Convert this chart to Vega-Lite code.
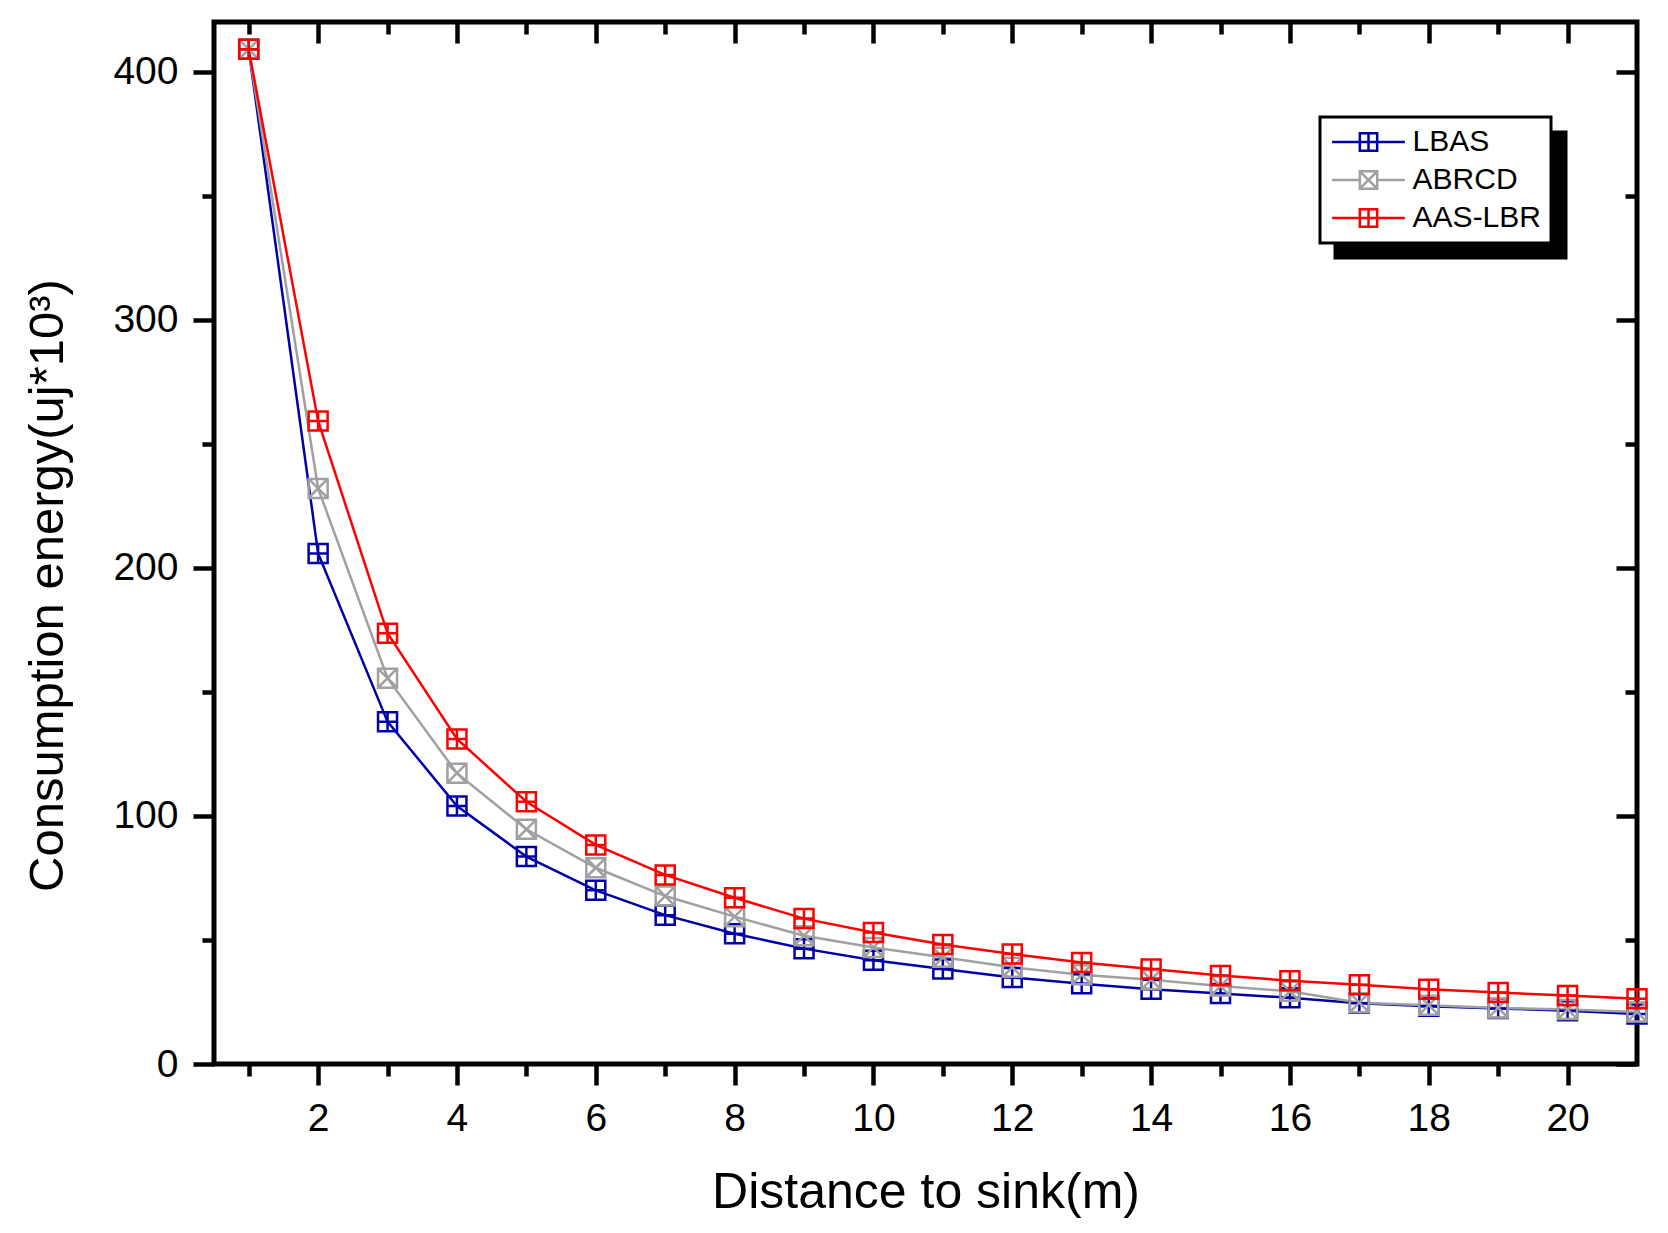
{
  "$schema": "https://vega.github.io/schema/vega-lite/v6.json",
  "width": 1423,
  "height": 1042,
  "autosize": {"type": "none"},
  "padding": {"left": 214, "top": 22, "right": 31, "bottom": 169},
  "background": "#ffffff",
  "config": {
    "font": "Liberation Sans",
    "view": {"stroke": "#000000", "strokeWidth": 5},
    "legend": {"strokeWidth": 3},
    "axis": {
      "grid": false,
      "domain": false,
      "tickColor": "#000000",
      "tickWidth": 4.5,
      "labelColor": "#000000",
      "titleColor": "#000000",
      "labelFont": "Liberation Sans",
      "titleFont": "Liberation Sans",
      "labelFontSize": 39,
      "titleFontSize": 49,
      "titleFontWeight": "normal",
      "labelFlush": false,
      "labelOverlap": false
    }
  },
  "data": {
    "values": [
      {"distance": 1, "series": "LBAS", "energy": 409},
      {"distance": 2, "series": "LBAS", "energy": 205.8},
      {"distance": 3, "series": "LBAS", "energy": 138},
      {"distance": 4, "series": "LBAS", "energy": 104},
      {"distance": 5, "series": "LBAS", "energy": 83.6},
      {"distance": 6, "series": "LBAS", "energy": 70},
      {"distance": 7, "series": "LBAS", "energy": 60},
      {"distance": 8, "series": "LBAS", "energy": 52.5},
      {"distance": 9, "series": "LBAS", "energy": 46.5},
      {"distance": 10, "series": "LBAS", "energy": 41.8},
      {"distance": 11, "series": "LBAS", "energy": 38.3},
      {"distance": 12, "series": "LBAS", "energy": 34.9},
      {"distance": 13, "series": "LBAS", "energy": 32.3},
      {"distance": 14, "series": "LBAS", "energy": 30.1},
      {"distance": 15, "series": "LBAS", "energy": 28.4},
      {"distance": 16, "series": "LBAS", "energy": 26.7},
      {"distance": 17, "series": "LBAS", "energy": 24.5},
      {"distance": 18, "series": "LBAS", "energy": 23.3},
      {"distance": 19, "series": "LBAS", "energy": 22.4},
      {"distance": 20, "series": "LBAS", "energy": 21.5},
      {"distance": 21, "series": "LBAS", "energy": 20.2},
      {"distance": 1, "series": "ABRCD", "energy": 409},
      {"distance": 2, "series": "ABRCD", "energy": 232},
      {"distance": 3, "series": "ABRCD", "energy": 155.5},
      {"distance": 4, "series": "ABRCD", "energy": 117.2},
      {"distance": 5, "series": "ABRCD", "energy": 94.6},
      {"distance": 6, "series": "ABRCD", "energy": 79.1},
      {"distance": 7, "series": "ABRCD", "energy": 67.7},
      {"distance": 8, "series": "ABRCD", "energy": 59.4},
      {"distance": 9, "series": "ABRCD", "energy": 51.7},
      {"distance": 10, "series": "ABRCD", "energy": 47},
      {"distance": 11, "series": "ABRCD", "energy": 43},
      {"distance": 12, "series": "ABRCD", "energy": 39},
      {"distance": 13, "series": "ABRCD", "energy": 36},
      {"distance": 14, "series": "ABRCD", "energy": 34},
      {"distance": 15, "series": "ABRCD", "energy": 31.4},
      {"distance": 16, "series": "ABRCD", "energy": 29.3},
      {"distance": 17, "series": "ABRCD", "energy": 24.7},
      {"distance": 18, "series": "ABRCD", "energy": 23.7},
      {"distance": 19, "series": "ABRCD", "energy": 22.6},
      {"distance": 20, "series": "ABRCD", "energy": 22},
      {"distance": 21, "series": "ABRCD", "energy": 21},
      {"distance": 1, "series": "AAS-LBR", "energy": 409},
      {"distance": 2, "series": "AAS-LBR", "energy": 259.2},
      {"distance": 3, "series": "AAS-LBR", "energy": 173.6},
      {"distance": 4, "series": "AAS-LBR", "energy": 131},
      {"distance": 5, "series": "AAS-LBR", "energy": 105.7},
      {"distance": 6, "series": "AAS-LBR", "energy": 88.3},
      {"distance": 7, "series": "AAS-LBR", "energy": 76.2},
      {"distance": 8, "series": "AAS-LBR", "energy": 67},
      {"distance": 9, "series": "AAS-LBR", "energy": 58.6},
      {"distance": 10, "series": "AAS-LBR", "energy": 53},
      {"distance": 11, "series": "AAS-LBR", "energy": 48.2},
      {"distance": 12, "series": "AAS-LBR", "energy": 44.3},
      {"distance": 13, "series": "AAS-LBR", "energy": 40.9},
      {"distance": 14, "series": "AAS-LBR", "energy": 38.3},
      {"distance": 15, "series": "AAS-LBR", "energy": 35.7},
      {"distance": 16, "series": "AAS-LBR", "energy": 33.6},
      {"distance": 17, "series": "AAS-LBR", "energy": 31.9},
      {"distance": 18, "series": "AAS-LBR", "energy": 30.1},
      {"distance": 19, "series": "AAS-LBR", "energy": 28.8},
      {"distance": 20, "series": "AAS-LBR", "energy": 27.6},
      {"distance": 21, "series": "AAS-LBR", "energy": 26.3}
    ]
  },
  "resolve": {"axis": {"x": "independent", "y": "independent"}},
  "layer": [
    {
      "mark": {"type": "line", "strokeWidth": 2.5},
      "encoding": {
        "x": {
          "field": "distance",
          "type": "quantitative",
          "scale": {"domain": [0.5, 21], "nice": false, "zero": false},
          "axis": {
            "orient": "bottom",
            "values": [2, 4, 6, 8, 10, 12, 14, 16, 18, 20],
            "format": "d",
            "tickSize": 21,
            "labelPadding": 14,
            "title": "Distance to sink(m)",
            "titleFontSize": 50,
            "titleY": 143,
            "titleBaseline": "alphabetic"
          }
        },
        "y": {
          "field": "energy",
          "type": "quantitative",
          "scale": {"domain": [0, 420], "nice": false},
          "axis": {
            "orient": "left",
            "values": [0, 100, 200, 300, 400],
            "format": "d",
            "tickSize": 21,
            "labelPadding": 15,
            "title": "Consumption energy(uj*10³)",
            "titleX": -152,
            "titleY": 563,
            "titleBaseline": "alphabetic"
          }
        },
        "color": {
          "field": "series",
          "type": "nominal",
          "scale": {
            "domain": ["LBAS", "ABRCD", "AAS-LBR"],
            "range": ["#0000AA", "#A0A0A0", "#FF0000"]
          },
          "legend": {
            "title": null,
            "orient": "none",
            "legendX": 1106,
            "legendY": 95,
            "padding": 10,
            "fillColor": "#ffffff",
            "strokeColor": "#000000",
            "labelFont": "Liberation Sans",
            "labelFontSize": 30,
            "labelColor": "#000000",
            "symbolSize": 300,
            "symbolOffset": 23.5,
            "labelOffset": 29.1,
            "rowPadding": 8,
            "symbolStrokeWidth": 2.5,
            "symbolFillColor": "transparent",
            "symbolType": {"expr": "datum.value === 'ABRCD' ? 'M-4.2,0H-1 M1,0H4.2 M-1,-1H1V1H-1Z M-1,-1L1,1 M-1,1L1,-1' : 'M-4.2,0H4.2 M-1,-1H1V1H-1Z M0,-1V1'"},
            "zindex": 2
          }
        }
      }
    },
    {
      "mark": {"type": "point", "filled": false, "size": 361, "strokeWidth": 2.5, "opacity": 1},
      "encoding": {
        "x": {
          "field": "distance",
          "type": "quantitative",
          "axis": {
            "orient": "bottom",
            "values": [1, 3, 5, 7, 9, 11, 13, 15, 17, 19],
            "tickSize": 12,
            "labels": false,
            "title": null
          }
        },
        "y": {
          "field": "energy",
          "type": "quantitative",
          "axis": {
            "orient": "left",
            "values": [50, 150, 250, 350],
            "tickSize": 12,
            "labels": false,
            "title": null
          }
        },
        "color": {"field": "series", "type": "nominal"},
        "shape": {
          "field": "series",
          "type": "nominal",
          "scale": {
            "domain": ["AAS-LBR", "ABRCD", "LBAS"],
            "range": [
              "M-1,-1H1V1H-1Z M0,-1V1 M-1,0H1",
              "M-1,-1H1V1H-1Z M-1,-1L1,1 M-1,1L1,-1",
              "M-1,-1H1V1H-1Z M0,-1V1 M-1,0H1"
            ]
          },
          "legend": null
        }
      }
    },
    {
      "mark": {"type": "line", "opacity": 0},
      "encoding": {
        "x": {
          "field": "distance",
          "type": "quantitative",
          "axis": {
            "orient": "top",
            "values": [2, 4, 6, 8, 10, 12, 14, 16, 18, 20],
            "tickSize": -21,
            "labels": false,
            "title": null
          }
        },
        "y": {
          "field": "energy",
          "type": "quantitative",
          "axis": {
            "orient": "right",
            "values": [0, 100, 200, 300, 400],
            "tickSize": -21,
            "labels": false,
            "title": null
          }
        },
        "strokeDash": {
          "field": "series",
          "type": "nominal",
          "legend": {
            "title": null,
            "orient": "none",
            "legendX": 1121,
            "legendY": 110,
            "padding": 10,
            "fillColor": "#000000",
            "strokeColor": "#000000",
            "labelFont": "Liberation Sans",
            "labelFontSize": 30,
            "labelColor": "#000000",
            "labelExpr": "'\u2003\u2003\u2003\u2003\u2005'",
            "symbolSize": 300,
            "symbolOffset": 23.5,
            "labelOffset": 157,
            "rowPadding": 8,
            "symbolStrokeColor": "#000000",
            "symbolType": {"expr": "datum.value === 'ABRCD' ? 'M-4.2,0H-1 M1,0H4.2 M-1,-1H1V1H-1Z M-1,-1L1,1 M-1,1L1,-1' : 'M-4.2,0H4.2 M-1,-1H1V1H-1Z M0,-1V1'"},
            "zindex": 1
          }
        }
      }
    },
    {
      "mark": {"type": "point", "opacity": 0},
      "encoding": {
        "x": {
          "field": "distance",
          "type": "quantitative",
          "axis": {
            "orient": "top",
            "values": [1, 3, 5, 7, 9, 11, 13, 15, 17, 19],
            "tickSize": -12,
            "labels": false,
            "title": null
          }
        },
        "y": {
          "field": "energy",
          "type": "quantitative",
          "axis": {
            "orient": "right",
            "values": [50, 150, 250, 350],
            "tickSize": -12,
            "labels": false,
            "title": null
          }
        }
      }
    }
  ]
}
